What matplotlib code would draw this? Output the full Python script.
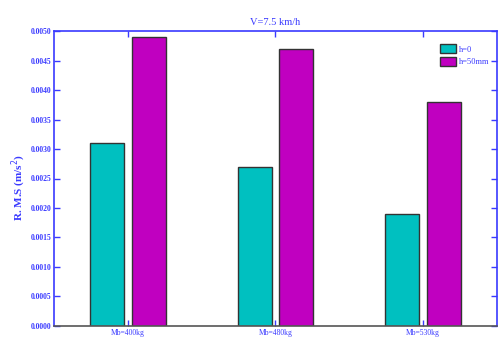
import matplotlib
matplotlib.use("Agg")
import matplotlib.pyplot as plt
import numpy as np

categories = ["Mb=400kg", "Mb=480kg", "Mb=530kg"]
series_names = ["h=0", "h=50mm"]
rms_h0 = [0.0031, 0.0027, 0.0019]
rms_h50 = [0.0049, 0.0047, 0.0038]
yticks = [0.0, 0.0005, 0.0010, 0.0015, 0.0020, 0.0025, 0.0030, 0.0035, 0.0040, 0.0045, 0.0050]
ytick_labels = ["0.0000", "0.0005", "0.0010", "0.0015", "0.0020", "0.0025",
                "0.0030", "0.0035", "0.0040", "0.0045", "0.0050"]

blue = "#3a3aff"
teal = "#00c0c0"
magenta = "#c000c0"
serif = ["Liberation Serif", "DejaVu Serif"]

fig = plt.figure(figsize=(5.02, 3.40), dpi=100)
ax = fig.add_axes([0.1076, 0.0412, 0.8824, 0.8676])

x = np.arange(1, len(categories) + 1)
w = 0.23
off = 0.142
ax.bar(x - off, rms_h0, width=w, color=teal, edgecolor="#333333", linewidth=1.0,
       label=series_names[0], zorder=2)
ax.bar(x + off, rms_h50, width=w, color=magenta, edgecolor="#333333", linewidth=1.0,
       label=series_names[1], zorder=2)

ax.set_xlim(0.5, 3.5)
ax.set_ylim(0, 0.005)
ax.set_xticks(x)
ax.set_xticklabels(categories, fontsize=5.5, color=blue, family=serif)
ax.set_yticks(yticks)
ax.set_yticklabels(ytick_labels, fontsize=5.5, color=blue, family=serif, fontweight="bold")

ax.tick_params(axis="both", direction="in", colors=blue, width=1.0, length=4,
               top=True, right=True, pad=2)
ax.tick_params(axis="x", length=4)

for side in ["left", "top", "right"]:
    ax.spines[side].set_color(blue)
    ax.spines[side].set_linewidth(1.2)
ax.spines["bottom"].set_color("#555555")
ax.spines["bottom"].set_linewidth(1.2)
ax.spines["bottom"].set_zorder(3)

ax.set_ylabel("R. M.S (m/s$^2$)", fontsize=8, color=blue, family=serif,
              fontweight="bold", labelpad=4)
ax.yaxis.set_label_coords(-0.058, 0.47)
ax.set_title("V=7.5 km/h", fontsize=7.5, color=blue, family=serif, pad=4)

leg = ax.legend(loc="upper right", bbox_to_anchor=(1.0, 0.98), frameon=False,
                fontsize=6, handlelength=2.0, handleheight=1.3, handletextpad=0.3,
                labelspacing=0.35)
for t in leg.get_texts():
    t.set_color(blue)
    t.set_family(serif)

fig.savefig("out.png", dpi=100)
